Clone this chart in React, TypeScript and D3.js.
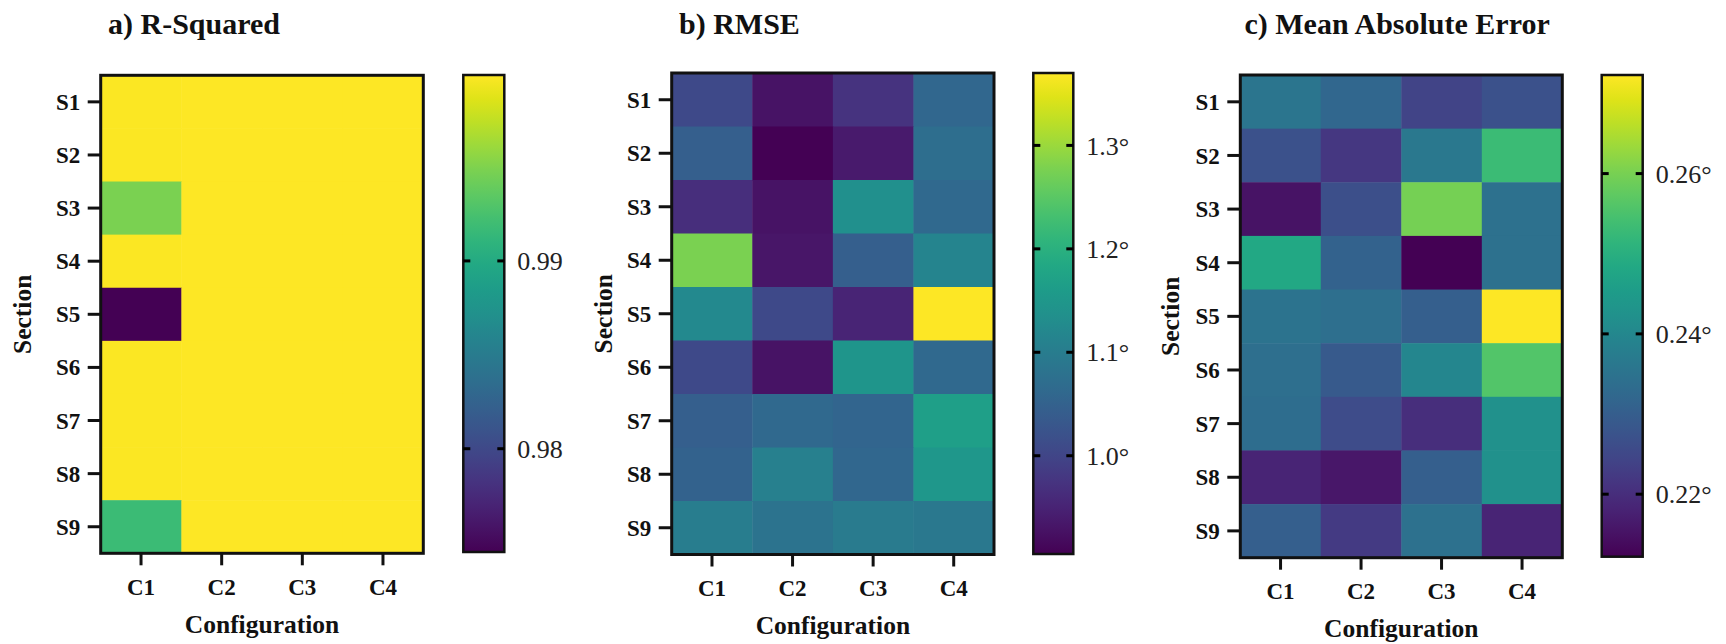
import React from "react";
import * as d3 from "d3";

const sections = ["S1", "S2", "S3", "S4", "S5", "S6", "S7", "S8", "S9"];
const configs = ["C1", "C2", "C3", "C4"];

// rows = sections, cols = configs
const rSquared = [
  [0.9998, 0.9999, 0.9999, 0.9999],
  [0.9998, 0.9999, 0.9999, 0.9999],
  [0.9948, 0.9999, 0.9999, 0.9999],
  [0.9998, 0.9999, 0.9999, 0.9999],
  [0.9745, 0.9999, 0.9999, 0.9999],
  [0.9998, 0.9999, 0.9999, 0.9999],
  [0.9998, 0.9999, 0.9999, 0.9999],
  [0.9998, 0.9999, 0.9999, 0.9999],
  [0.9918, 0.9999, 0.9999, 0.9999],
];

const rmse = [
  [1.007, 0.928, 0.974, 1.058],
  [1.044, 0.905, 0.937, 1.072],
  [0.965, 0.928, 1.137, 1.063],
  [1.277, 0.932, 1.044, 1.114],
  [1.123, 1.007, 0.951, 1.37],
  [1.007, 0.928, 1.147, 1.063],
  [1.044, 1.063, 1.054, 1.165],
  [1.049, 1.105, 1.058, 1.151],
  [1.1, 1.082, 1.096, 1.091],
];

const mae = [
  [0.2356, 0.232, 0.2242, 0.2272],
  [0.2272, 0.2218, 0.2362, 0.2531],
  [0.2152, 0.2266, 0.2597, 0.2344],
  [0.2483, 0.2308, 0.2122, 0.2344],
  [0.235, 0.2338, 0.2302, 0.2723],
  [0.2338, 0.229, 0.2398, 0.2561],
  [0.2335, 0.226, 0.22, 0.2423],
  [0.2182, 0.2158, 0.2302, 0.2423],
  [0.2302, 0.2224, 0.2344, 0.2182],
];

const titles = ["a) R-Squared", "b) RMSE", "c) Mean Absolute Error"];
const rSquaredTicks = [0.98, 0.99];
const rmseTicks = [1.0, 1.1, 1.2, 1.3];
const maeTicks = [0.22, 0.24, 0.26];
const rSquaredTickLabels = ["0.98", "0.99"];
const rmseTickLabels = ["1.0°", "1.1°", "1.2°", "1.3°"];
const maeTickLabels = ["0.22°", "0.24°", "0.26°"];

const FONT = "Liberation Serif, Times New Roman, Times, DejaVu Serif, serif";

type Layout = {
  left: number;
  right: number;
  top: number;
  bottom: number;
  cbLeft: number;
  cbRight: number;
  cbTop: number;
  cbBottom: number;
  sectionX: number;
  titleX: number;
};

const layouts: Layout[] = [
  { left: 100.7, right: 423.3, top: 75.3, bottom: 553.3, cbLeft: 463.3, cbRight: 504.3, cbTop: 75, cbBottom: 552, sectionX: 31, titleX: 108 },
  { left: 671.7, right: 994, top: 73, bottom: 554.5, cbLeft: 1033.3, cbRight: 1073.3, cbTop: 73, cbBottom: 554, sectionX: 611.5, titleX: 679 },
  { left: 1240.3, right: 1562.3, top: 75, bottom: 557.7, cbLeft: 1601.7, cbRight: 1642.7, cbTop: 75, cbBottom: 556.7, sectionX: 1179, titleX: 1244.5 },
];

const panelsData = [
  { values: rSquared, ticks: rSquaredTicks, labels: rSquaredTickLabels },
  { values: rmse, ticks: rmseTicks, labels: rmseTickLabels },
  { values: mae, ticks: maeTicks, labels: maeTickLabels },
];

function Panel({ idx }: { idx: number }) {
  const L = layouts[idx];
  const { values, ticks, labels } = panelsData[idx];
  const flat = values.flat();
  const [mn, mx] = d3.extent(flat) as [number, number];
  const color = d3.scaleSequential(d3.interpolateViridis).domain([mn, mx]);
  const x = d3.scaleBand<string>().domain(configs).range([L.left, L.right]).padding(0);
  const y = d3.scaleBand<string>().domain(sections).range([L.top, L.bottom]).padding(0);
  const cbY = d3.scaleLinear().domain([mn, mx]).range([L.cbBottom, L.cbTop]);
  const gradId = `grad${idx}`;
  const stops = d3.range(0, 1.0001, 0.05);
  return (
    <g>
      <defs>
        <linearGradient id={gradId} x1="0" y1="1" x2="0" y2="0">
          {stops.map((t) => (
            <stop key={t} offset={`${t * 100}%`} stopColor={d3.interpolateViridis(t)} />
          ))}
        </linearGradient>
      </defs>
      <text x={L.titleX} y={34} fontFamily={FONT} fontWeight="bold" fontSize={30} fill="#111">
        {titles[idx]}
      </text>
      {values.map((row, r) =>
        row.map((v, c) => (
          <rect
            key={`${r}-${c}`}
            x={x(configs[c])!}
            y={y(sections[r])!}
            width={x.bandwidth() + 0.5}
            height={y.bandwidth() + 0.5}
            fill={color(v)}
          />
        ))
      )}
      <rect x={L.left} y={L.top} width={L.right - L.left} height={L.bottom - L.top} fill="none" stroke="#111" strokeWidth={3} />
      {sections.map((s) => {
        const cy = y(s)! + y.bandwidth() / 2;
        return (
          <g key={s}>
            <line x1={L.left - 13} x2={L.left} y1={cy} y2={cy} stroke="#111" strokeWidth={3} />
            <text x={L.left - 20.5} y={cy} dy="0.35em" textAnchor="end" fontFamily={FONT} fontWeight="bold" fontSize={23} fill="#111">
              {s}
            </text>
          </g>
        );
      })}
      {configs.map((c) => {
        const cx = x(c)! + x.bandwidth() / 2;
        return (
          <g key={c}>
            <line x1={cx} x2={cx} y1={L.bottom} y2={L.bottom + 12} stroke="#111" strokeWidth={3} />
            <text x={cx} y={L.bottom + 41.5} textAnchor="middle" fontFamily={FONT} fontWeight="bold" fontSize={23} fill="#111">
              {c}
            </text>
          </g>
        );
      })}
      <text x={(L.left + L.right) / 2} y={L.bottom + 79.5} textAnchor="middle" fontFamily={FONT} fontWeight="bold" fontSize={25.5} fill="#111">
        Configuration
      </text>
      <text
        transform={`translate(${L.sectionX},${(L.top + L.bottom) / 2}) rotate(-90)`}
        textAnchor="middle"
        fontFamily={FONT}
        fontWeight="bold"
        fontSize={25.5}
        fill="#111"
      >
        Section
      </text>
      <rect x={L.cbLeft} y={L.cbTop} width={L.cbRight - L.cbLeft} height={L.cbBottom - L.cbTop} fill={`url(#${gradId})`} stroke="#111" strokeWidth={2.5} />
      {ticks.map((t, i) => {
        const ty = cbY(t);
        return (
          <g key={t}>
            <line x1={L.cbLeft} x2={L.cbLeft + 7} y1={ty} y2={ty} stroke="#000" strokeWidth={3} />
            <line x1={L.cbRight - 7} x2={L.cbRight} y1={ty} y2={ty} stroke="#000" strokeWidth={3} />
            <text x={L.cbRight + 13} y={ty} dy="0.35em" fontFamily={FONT} fontSize={26} fill="#222">
              {labels[i]}
            </text>
          </g>
        );
      })}
    </g>
  );
}

export default function App() {
  return (
    <svg width={1726} height={644} style={{ position: "absolute", left: 0, top: 0, background: "#fff" }}>
      <rect x={0} y={0} width={1726} height={644} fill="#fff" />
      {[0, 1, 2].map((i) => (
        <Panel key={i} idx={i} />
      ))}
    </svg>
  );
}
